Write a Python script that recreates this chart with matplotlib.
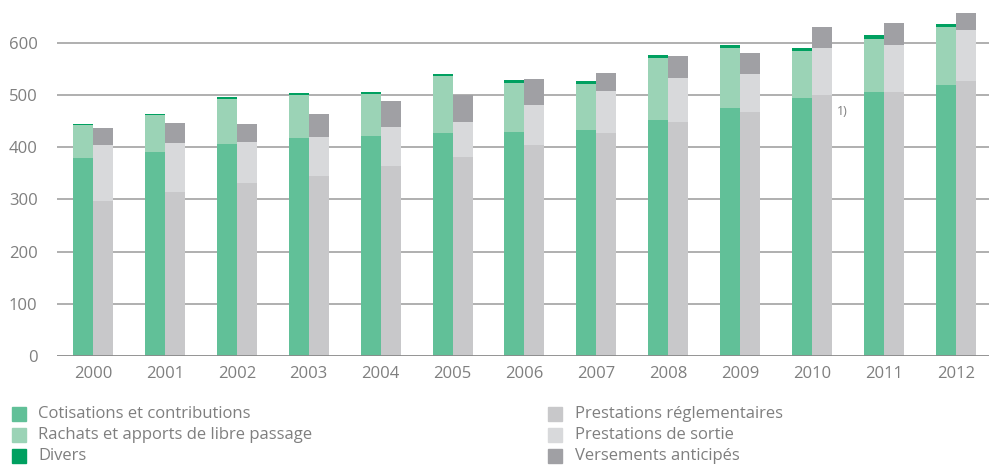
import matplotlib
matplotlib.use("Agg")
import matplotlib.pyplot as plt
import numpy as np
from matplotlib.patches import Rectangle

years = ["2000", "2001", "2002", "2003", "2004", "2005", "2006",
         "2007", "2008", "2009", "2010", "2011", "2012"]

# Entrées (green stack)
cotisations = [380, 391, 406, 418, 422, 427, 429, 433, 452, 475, 495, 506, 520]
rachats = [63, 71, 87, 82, 80, 110, 94, 88, 119, 115, 90, 102, 111]
divers = [2, 2, 4, 4, 4, 4, 6, 6, 6, 6, 5, 7.5, 5]

# Sorties (grey stack)
prest_regl = [297, 314, 332, 345, 364, 381, 405, 427, 449, 468, 500, 506, 527]
prest_sortie = [108, 94, 78, 75, 75, 68, 76, 81, 84, 73, 90, 90, 98]
versements = [32, 39, 35, 44, 50, 51, 50, 35, 42, 40, 41, 42, 33]

yticks = [0, 100, 200, 300, 400, 500, 600]

c_cot = "#61c098"
c_rach = "#9bd3b6"
c_div = "#00a060"
c_regl = "#c8c8ca"
c_sortie = "#d8d9db"
c_vers = "#a0a0a4"

plt.rcParams['font.family'] = ['Open Sans', 'DejaVu Sans']
txt_color = "#7f7f7f"

fig = plt.figure(figsize=(9.89, 4.65), dpi=100)
ax = fig.add_axes([57/989, (465-356)/465, 1 - 57/989, 356/465])

x = np.arange(len(years))
w = 0.278

cot = np.array(cotisations, float)
rach = np.array(rachats, float)
div = np.array(divers, float)
regl = np.array(prest_regl, float)
sort = np.array(prest_sortie, float)
vers = np.array(versements, float)

ax.bar(x - w/2, cot, w, color=c_cot, zorder=3, linewidth=0)
ax.bar(x - w/2, rach, w, bottom=cot, color=c_rach, zorder=3, linewidth=0)
ax.bar(x - w/2, div, w, bottom=cot + rach, color=c_div, zorder=3, linewidth=0)
ax.bar(x + w/2, regl, w, color=c_regl, zorder=3, linewidth=0)
ax.bar(x + w/2, sort, w, bottom=regl, color=c_sortie, zorder=3, linewidth=0)
ax.bar(x + w/2, vers, w, bottom=regl + sort, color=c_vers, zorder=3, linewidth=0)

ax.set_xlim(-0.5, 12.46)
ax.set_ylim(0, 682)
for t in yticks[1:]:
    ax.axhline(t, color="#9a9a9a", lw=1.1, zorder=1)
ax.axhline(0, color="#8a8a8a", lw=2, zorder=4)

for s in ax.spines.values():
    s.set_visible(False)
ax.set_yticks(yticks)
ax.set_yticklabels([str(t) for t in yticks])
ax.set_xticks(x)
ax.set_xticklabels(years)
ax.tick_params(axis='both', length=0, labelsize=12, colors=txt_color)
ax.tick_params(axis='y', pad=14)
ax.tick_params(axis='x', pad=7)
for lab in ax.get_yticklabels():
    lab.set_horizontalalignment('right')

ax.text(10.35, 468, "1)", fontsize=9, color=txt_color, va='center', ha='left')

# Legend
left_items = [("Cotisations et contributions", c_cot),
              ("Rachats et apports de libre passage", c_rach),
              ("Divers", c_div)]
right_items = [("Prestations réglementaires", c_regl),
               ("Prestations de sortie", c_sortie),
               ("Versements anticipés", c_vers)]
rows_y = [414, 435, 456]
for (lbl, col), yy in zip(left_items, rows_y):
    fig.patches.append(Rectangle((12/989, 1 - (yy + 7)/465), 14/989, 14/465,
                                 transform=fig.transFigure, color=col, zorder=5))
    fig.text(38/989, 1 - yy/465, lbl, fontsize=12, color=txt_color, va='center', ha='left')
for (lbl, col), yy in zip(right_items, rows_y):
    fig.patches.append(Rectangle((548/989, 1 - (yy + 7)/465), 14/989, 14/465,
                                 transform=fig.transFigure, color=col, zorder=5))
    fig.text(575/989, 1 - yy/465, lbl, fontsize=12, color=txt_color, va='center', ha='left')

fig.savefig("out.png", dpi=100)
